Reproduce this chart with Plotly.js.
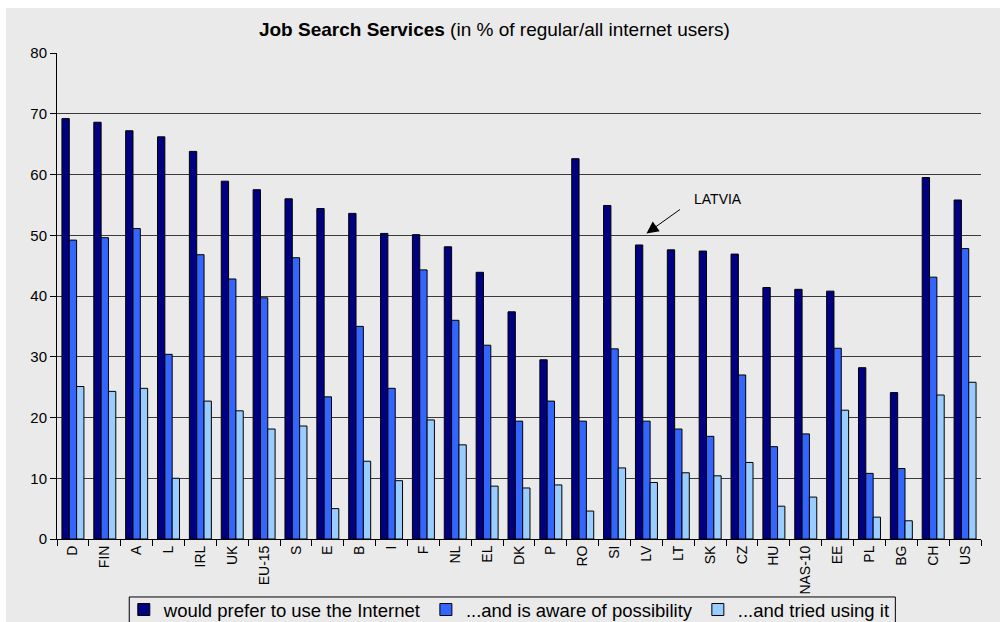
<!DOCTYPE html>
<html>
<head>
<meta charset="utf-8">
<script src="https://cdn.plot.ly/plotly-3.0.1.min.js"></script>
<style>
  html, body { margin: 0; padding: 0; background: #ffffff; }
  #chart { position: absolute; left: 6px; top: 8px; width: 994px; height: 614px; }
</style>
</head>
<body>
<div id="chart"></div>
<script>
const categories = ["D","FIN","A","L","IRL","UK","EU-15","S","E","B","I","F","NL","EL","DK","P","RO","SI","LV","LT","SK","CZ","HU","NAS-10","EE","PL","BG","CH","US"];
const preferInternet = [69.2,68.6,67.2,66.2,63.8,58.9,57.5,56.0,54.4,53.6,50.3,50.1,48.1,43.9,37.4,29.5,62.6,54.9,48.4,47.6,47.4,46.9,41.4,41.1,40.8,28.2,24.1,59.5,55.8];
const awareOfPossibility = [49.2,49.6,51.1,30.4,46.8,42.8,39.7,46.3,23.4,35.0,24.8,44.3,36.0,31.9,19.4,22.7,19.4,31.3,19.4,18.1,16.9,27.0,15.2,17.3,31.4,10.8,11.6,43.1,47.8];
const triedUsing = [25.1,24.3,24.8,10.0,22.7,21.1,18.1,18.6,5.0,12.8,9.6,19.6,15.5,8.7,8.4,8.9,4.6,11.7,9.3,10.9,10.4,12.6,5.4,6.9,21.2,3.6,3.0,23.7,25.8];
const seriesNames = ["would prefer to use the Internet","...and is aware of possibility","...and tried using it"];
const seriesColors = ["#000080","#3366FF","#99CCFF"];

const seriesValues = [preferInternet, awareOfPossibility, triedUsing];
const traces = seriesValues.map((vals, i) => ({
  type: "bar",
  x: categories,
  y: vals,
  name: seriesNames[i],
  marker: { color: seriesColors[i], line: { color: "#000000", width: 1 } },
  hoverinfo: "x+y"
}));

const font = "'Liberation Sans', Arial, sans-serif";
const layout = {
  width: 994,
  height: 614,
  paper_bgcolor: "#EAEAEA",
  plot_bgcolor: "#EAEAEA",
  margin: { l: 50.7, r: 19.3, t: 45, b: 83, pad: 0, autoexpand: false },
  font: { family: font, color: "#000000" },
  barmode: "group",
  bargap: 0.31,
  bargroupgap: 0,
  title: {
    text: "<b>Job Search Services</b> (in % of regular/all internet users)",
    font: { family: font, size: 19, color: "#000000" },
    xref: "container", x: 0.4914, xanchor: "center",
    yref: "container", y: 0.966, yanchor: "middle"
  },
  xaxis: {
    type: "category",
    automargin: false,
    tickangle: -90,
    tickfont: { family: font, size: 14, color: "#000000" },
    ticks: "outside",
    tickson: "boundaries",
    ticklen: 6,
    tickcolor: "#000000",
    showline: true,
    linecolor: "#000000",
    linewidth: 1,
    showgrid: false,
    fixedrange: true
  },
  yaxis: {
    automargin: false,
    range: [0, 80],
    dtick: 10,
    tick0: 0,
    tickfont: { family: font, size: 15, color: "#000000" },
    ticks: "outside",
    ticklen: 6,
    tickcolor: "#000000",
    showline: true,
    linecolor: "#000000",
    linewidth: 1,
    showgrid: true,
    gridcolor: "#3a3a3a",
    gridwidth: 1,
    zeroline: false,
    fixedrange: true
  },
  showlegend: true,
  legend: {
    orientation: "h",
    xref: "paper",
    x: 0.4895, xanchor: "center",
    yref: "container",
    y: 0.0505, yanchor: "top",
    bgcolor: "rgba(0,0,0,0)",
    borderwidth: 0,
    font: { family: font, size: 18.5, color: "#000000" },
    itemgap: 0
  },
  shapes: [
    {
      type: "rect",
      xref: "paper", yref: "paper",
      x0: 0.0782, x1: 0.9073,
      y0: -0.1193, y1: -0.25,
      line: { color: "#000000", width: 1 },
      fillcolor: "rgba(0,0,0,0)",
      layer: "above"
    }
  ],
  annotations: [
    {
      xref: "paper", yref: "y",
      x: 0.715, y: 55.9,
      text: "LATVIA",
      showarrow: false,
      font: { family: font, size: 14, color: "#000000" },
      xanchor: "center", yanchor: "middle"
    },
    {
      xref: "x", yref: "y",
      x: "LV", y: 50.3,
      text: "",
      showarrow: true,
      arrowhead: 2,
      arrowsize: 2.4,
      arrowwidth: 1,
      arrowcolor: "#000000",
      ax: 35, ay: -25
    }
  ]
};

Plotly.newPlot("chart", traces, layout, { displayModeBar: false, staticPlot: true });
</script>
</body>
</html>
